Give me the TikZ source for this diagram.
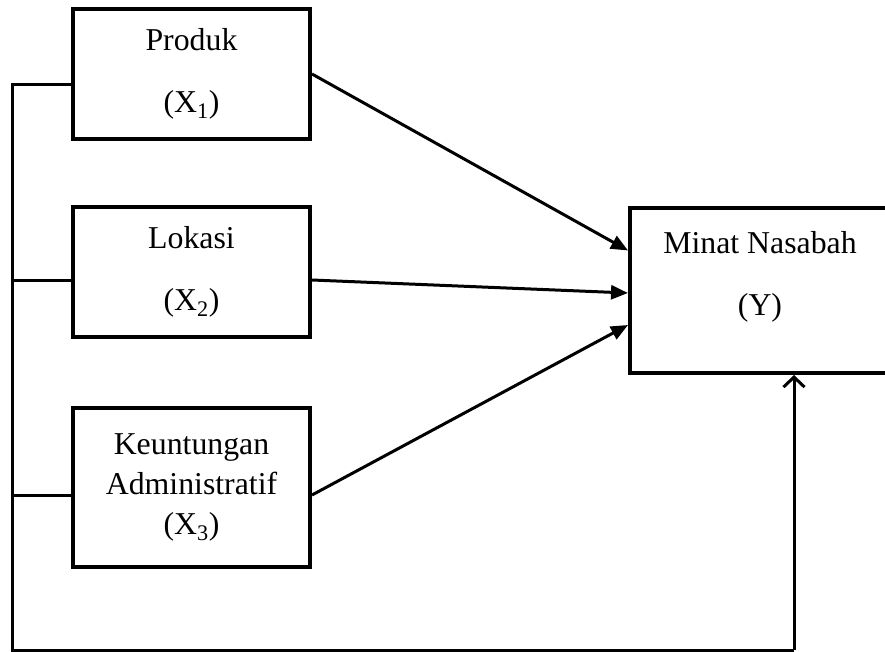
\documentclass[tikz,border=0pt]{standalone}
\usepackage{fontspec}
\setmainfont{Liberation Serif}
\usepackage{tikz}
\usetikzlibrary{positioning,arrows.meta}
\tikzstyle{diagram} = [x = 1pt, y = -1pt]
\tikzstyle{varBox} = [draw, line width=4pt, rectangle, minimum width=237pt, align=center, inner sep=0pt]
\tikzstyle{varText} = [font=\fontsize{31.8}{62}\selectfont]
\tikzstyle{pathLine} = [line width=3pt]
\tikzstyle{effectArrow} = [pathLine, -{Triangle[length=17pt,width=14pt]}]
\tikzstyle{busArrow} = [pathLine, -{Straight Barb[length=10pt,width=21pt]}]
\newcommand{\varName}[2]{#1\\(X\textsubscript{#2})}

\begin{document}
\begin{tikzpicture}[diagram]
  \clip (0,0) rectangle (885,652);
  % independent variables
  \node [varBox, varText, minimum height=130pt] (produk) at (191.5,74) {\varName{Produk}{1}};
  \node [varBox, varText, minimum height=130pt] (lokasi) at (191.5,272) {\varName{Lokasi}{2}};
  \node [varBox, varText, minimum height=159pt, font=\fontsize{31.8}{40}\selectfont] (keuntungan) at (191.5,487.5) {Keuntungan\\Administratif\\(X\textsubscript{3})};
  % dependent variable
  \node [varBox, minimum width=260pt, minimum height=165pt] (minat) at (760,290.5) {};
  \node [varText, align=center] (minatText) at (760,277) {Minat Nasabah\\(Y)};
  % arrows into Y
  \draw [effectArrow] (produk.east) -- ([yshift=40pt]minat.west);
  \draw [effectArrow] ([yshift=-8pt]lokasi.east) -- ([yshift=-2.5pt]minat.west);
  \draw [effectArrow] ([yshift=-7.5pt]keuntungan.east) -- ([yshift=-34.5pt]minat.west);
  % simultaneous path
  \coordinate (busTop) at (12,85);
  \coordinate (tapLokasi) at (12,280);
  \coordinate (tapKeuntungan) at (12,495);
  \coordinate (busBottom) at (12,650);
  \coordinate (busEnd) at (794,650);
  \draw [pathLine] (busTop -| produk.west) -- (busTop) -- (busBottom) -- (busEnd);
  \draw [pathLine] (tapLokasi) -- (tapLokasi -| lokasi.west);
  \draw [pathLine] (tapKeuntungan) -- (tapKeuntungan -| keuntungan.west);
  \draw [busArrow] (busEnd) -- (busEnd |- minat.south);
\end{tikzpicture}
\end{document}
